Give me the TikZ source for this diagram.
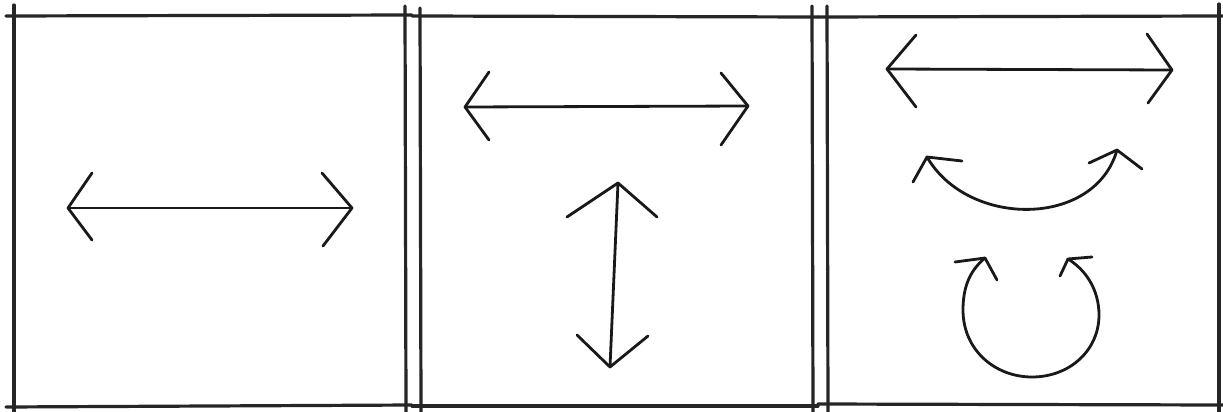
\documentclass[tikz,border=0pt]{standalone}
\begin{document}
\begin{tikzpicture}[x=1pt,y=-1pt,
  frame/.style={line width=3.2pt,black!85,line cap=round},
  stroke/.style={line width=2.8pt,black!90,line cap=round,line join=round}]
\useasboundingbox[fill=white] (0,0) rectangle (1223,412);
% ---------- panel frames ----------
\draw[frame] (6,16) -- (412,15);
\draw[frame] (14,5) -- (14,412);
\draw[frame] (6,407) -- (412,405);
\draw[frame] (405,6) -- (406,412);
\draw[frame] (412,16) -- (818,17);
\draw[frame] (420,8) -- (421,412);
\draw[frame] (412,406) -- (818,406);
\draw[frame] (812,6) -- (813,412);
\draw[frame] (818,17) -- (1223,16);
\draw[frame] (827,6) -- (828,412);
\draw[frame] (818,404) -- (1223,405);
\draw[frame] (1219,4) -- (1219,412);
% ---------- panel 1 ----------
\coordinate (p1l) at (68,208);
\coordinate (p1r) at (352,208);
\draw[stroke] (p1l) -- (p1r);
\draw[stroke] (92,173) -- (p1l) -- (92,240);
\draw[stroke] (322,173) -- (p1r) -- (323,246);
% ---------- panel 2 ----------
\coordinate (p2l) at (465,107);
\coordinate (p2r) at (748,106);
\draw[stroke] (p2l) -- (p2r);
\draw[stroke] (489,72) -- (p2l) -- (489,140);
\draw[stroke] (721,73) -- (p2r) -- (721,145);
\coordinate (p2t) at (618,183);
\coordinate (p2b) at (610,367);
\draw[stroke] (p2t) -- (p2b);
\draw[stroke] (567,217) -- (p2t) -- (657,217);
\draw[stroke] (577,335) -- (p2b) -- (648,336);
% ---------- panel 3 ----------
\coordinate (p3l) at (887,69);
\coordinate (p3r) at (1172,70);
\draw[stroke] (p3l) -- (p3r);
\draw[stroke] (916,35) -- (p3l) -- (916,107);
\draw[stroke] (1147,34) -- (p3r) -- (1148,103);
% smile arc
\coordinate (sl) at (927,157);
\coordinate (sr) at (1117,150);
\draw[stroke] (sl) .. controls (968,228) and (1095,228) .. (sr);
\draw[stroke] (962,161) -- (sl) -- (913,182);
\draw[stroke] (1089,163) -- (sr) -- (1142,169);
% loop arc
\coordinate (cl) at (985,258);
\coordinate (cr) at (1068,259);
\draw[stroke] (cl) .. controls (968,272) and (963,290) .. (963,310)
  .. controls (963,350) and (995,377) .. (1032,377)
  .. controls (1070,377) and (1099,350) .. (1099,315)
  .. controls (1099,290) and (1086,270) .. (cr);
\draw[stroke] (955,262) -- (cl) -- (997,280);
\draw[stroke] (1092,257) -- (cr) -- (1060,276);
\end{tikzpicture}
\end{document}
